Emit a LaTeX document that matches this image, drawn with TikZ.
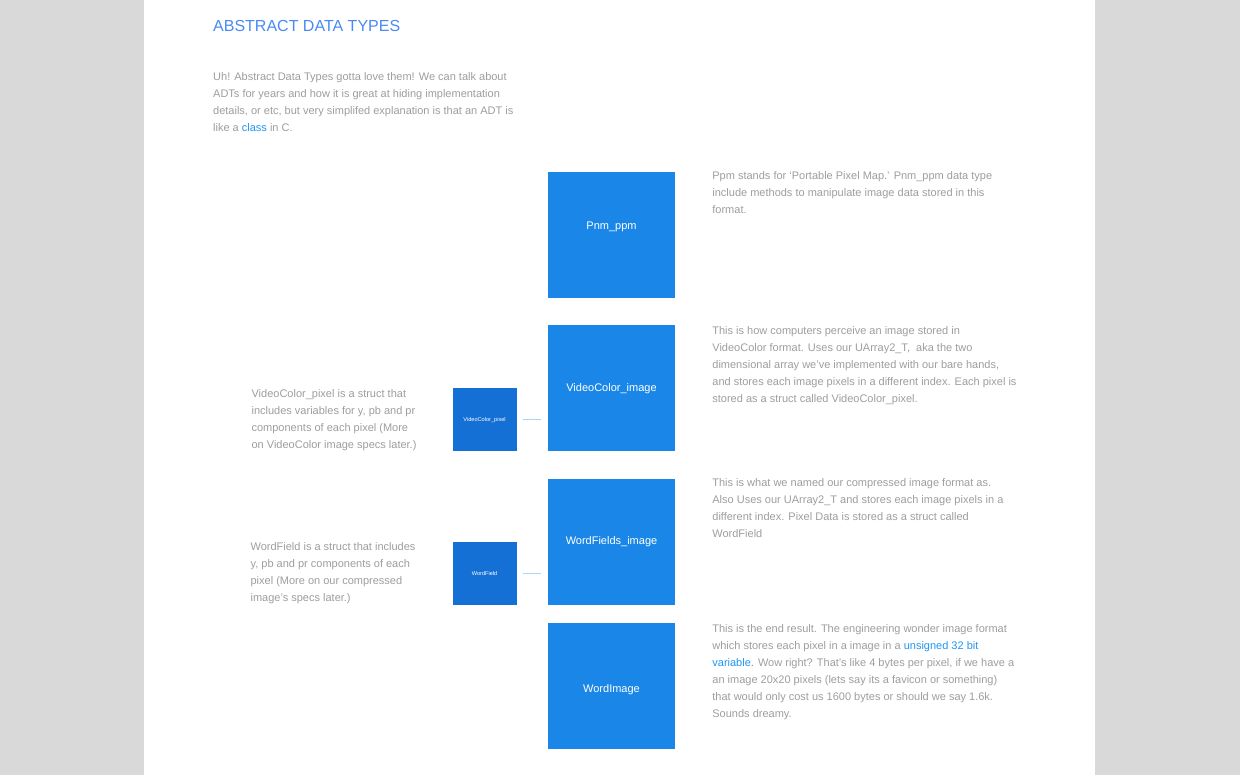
\documentclass[tikz,border=0pt]{standalone}
\usepackage{fontspec}
\setmainfont{Liberation Sans}
\usetikzlibrary{positioning}
\definecolor{pagegray}{HTML}{D9D9D9}
\definecolor{boxblue}{HTML}{1A87E8}
\definecolor{pixblue}{HTML}{1570D6}
\definecolor{titleblue}{HTML}{4A8AF4}
\definecolor{linkblue}{HTML}{2196F3}
\definecolor{notegray}{HTML}{9E9E9E}
\definecolor{lineblue}{HTML}{A9D5F7}

\begin{document}
\begin{tikzpicture}[x=1pt,y=-1pt]
    \tikzset{bigbox/.style= {fill=boxblue, text=white, minimum width=127pt, minimum height=126pt, inner sep=0pt, font=\fontsize{11}{13}\selectfont},
             smallbox/.style= {fill=pixblue, text=white, minimum width=64pt, minimum height=63pt, inner sep=0pt, font=\fontsize{5.6}{7}\selectfont},
             note/.style= {text=notegray, align=left, inner sep=0pt, anchor=north west, font=\fontsize{11}{17}\selectfont},
             link/.style= {draw=lineblue, line width=1pt},}

    \useasboundingbox (0,0) rectangle (1240,775);
    \fill[pagegray] (0,0) rectangle (1240,775);
    \fill[white] (144,0) rectangle (1095,775);

    \node [anchor=base west, inner sep=0pt, text=titleblue, font=\fontsize{16}{19}\selectfont] (title) at (213,32) {ABSTRACT DATA TYPES};
    \node [note] (intro) at (213,72) {Uh! Abstract Data Types gotta love them! We can talk about\\ADTs for years and how it is great at hiding implementation\\details, or etc, but very simplifed explanation is that an ADT is\\like a {\color{linkblue}class} in C.};

    \node [bigbox] (pnm) at (611.5,235) {\raisebox{5.5pt}[0pt][0pt]{Pnm\_ppm}};
    \node [bigbox, below =27pt of pnm] (vci) {VideoColor\_image};
    \node [bigbox, below =27pt of vci] (wfi) {WordFields\_image};
    \node [bigbox, below =18pt of wfi] (wim) {\raisebox{-6pt}[0pt][0pt]{WordImage}};

    \node [smallbox, anchor=south east] (vcp) at ([xshift=-31pt]vci.south west) {VideoColor\_pixel};
    \node [smallbox, anchor=south east] (wfd) at ([xshift=-31pt]wfi.south west) {WordField};

    \node [note] (pnmtxt) at ([xshift=37pt]pnm.north east) {Ppm stands for ‘Portable Pixel Map.’ Pnm\_ppm data type\\include methods to manipulate image data stored in this\\format.};
    \node [note] (vcitxt) at ([xshift=37pt,yshift=-1pt]vci.north east) {This is how computers perceive an image stored in\\VideoColor format. Uses our UArray2\_T,\ \ aka the two\\dimensional array we’ve implemented with our bare hands,\\and stores each image pixels in a different index. Each pixel is\\stored as a struct called VideoColor\_pixel.};
    \node [note] (wfitxt) at ([xshift=37pt]wfi.north east) {This is what we named our compressed image format as.\\Also Uses our UArray2\_T and stores each image pixels in a\\different index. Pixel Data is stored as a struct called\\WordField};
    \node [note] (wimtxt) at ([xshift=37pt,yshift=-1pt]wim.north east) {This is the end result. The engineering wonder image format\\which stores each pixel in a image in a {\color{linkblue}unsigned 32 bit}\\{\color{linkblue}variable.} Wow right? That’s like 4 bytes per pixel, if we have a\\an image 20x20 pixels (lets say its a favicon or something)\\that would only cost us 1600 bytes or should we say 1.6k.\\Sounds dreamy.};

    \node [note] (vcptxt) at ([xshift=-201pt,yshift=-1pt]vcp.north west) {VideoColor\_pixel is a struct that\\includes variables for y, pb and pr\\components of each pixel (More\\on VideoColor image specs later.)};
    \node [note] (wfdtxt) at ([xshift=-202pt,yshift=-1pt]wfd.north west) {WordField is a struct that includes\\y, pb and pr components of each\\pixel (More on our compressed\\image’s specs later.)};

    \draw[link, shorten <=6pt, shorten >=7pt] (vcp) -- (vcp -| vci.west);
    \draw[link, shorten <=6pt, shorten >=7pt] (wfd) -- (wfd -| wfi.west);
\end{tikzpicture}
\end{document}
